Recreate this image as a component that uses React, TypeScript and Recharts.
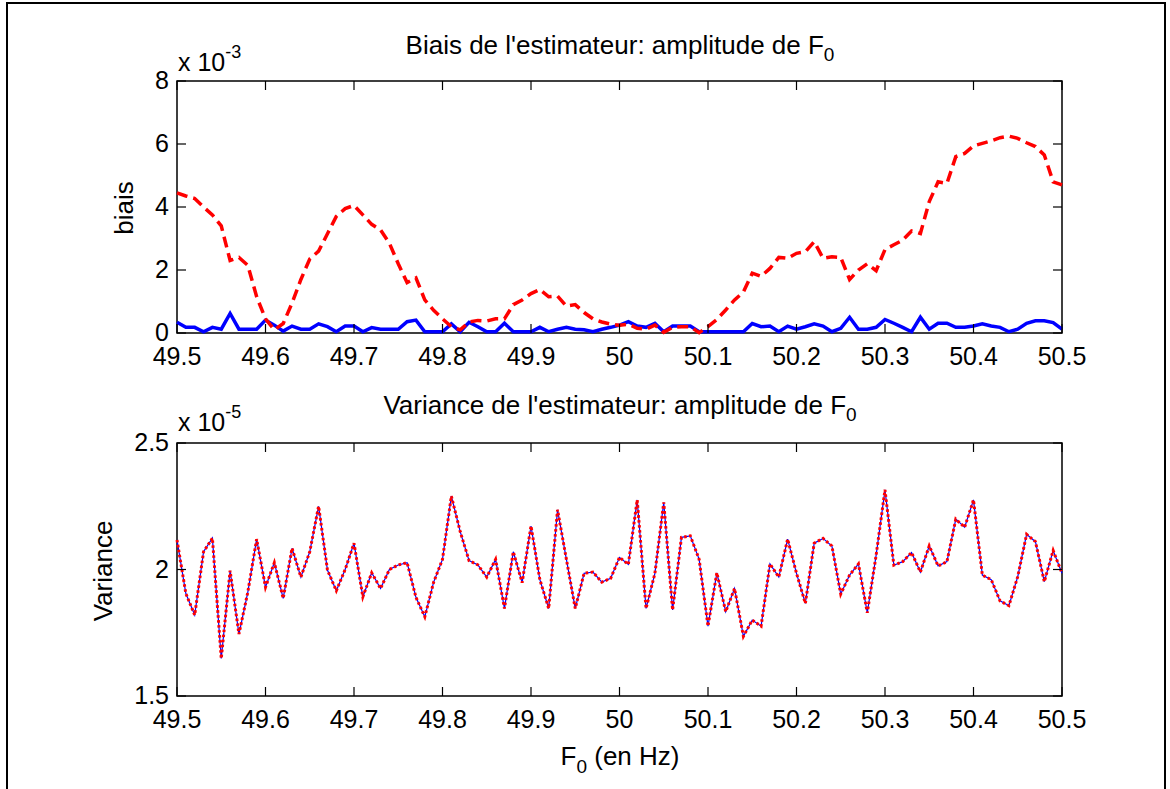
import { LineChart, Line, XAxis, YAxis, ReferenceArea } from 'recharts'

// grille de fréquences (Hz)
const freqs = Array.from({ length: 101 }, (_, i) => Math.round((49.5 + i * 0.01) * 100) / 100)

const xTicks = [49.5, 49.6, 49.7, 49.8, 49.9, 50, 50.1, 50.2, 50.3, 50.4, 50.5]
const biaisTicks = [0, 2, 4, 6, 8]
const varTicks = [1.5, 2, 2.5]

// biais, en unités de 1e-3
const biaisRouge = [
  4.45, 4.35, 4.27, 4.0, 3.75, 3.4, 2.3, 2.4, 2.15, 1.15,
  0.45, 0.1, 0.3, 0.95, 1.7, 2.35, 2.6, 3.15, 3.7, 3.95,
  4.05, 3.75, 3.45, 3.27, 2.85, 2.2, 1.6, 1.75, 1.05, 0.72,
  0.45, 0.2, 0.1, 0.35, 0.4, 0.38, 0.45, 0.45, 0.9, 1.05,
  1.25, 1.38, 1.15, 1.17, 0.85, 0.9, 0.65, 0.45, 0.35, 0.28,
  0.25, 0.28, 0.15, 0.12, 0.25, 0.02, 0.18, 0.2, 0.2, 0.01,
  0.2, 0.43, 0.73, 1.05, 1.3, 1.9, 1.8, 2.05, 2.4, 2.37,
  2.53, 2.58, 2.9, 2.37, 2.42, 2.4, 1.7, 2.0, 2.2, 1.98,
  2.65, 2.8, 2.95, 3.24, 3.16, 4.17, 4.8, 4.75, 5.6, 5.7,
  5.94, 6.02, 6.1, 6.2, 6.25, 6.18, 6.04, 5.92, 5.65, 4.8,
  4.7,
]
const biaisBleu = [
  0.34, 0.18, 0.18, 0.04, 0.18, 0.12, 0.62, 0.12, 0.12, 0.12,
  0.41, 0.25, 0.06, 0.22, 0.12, 0.12, 0.29, 0.2, 0.04, 0.22,
  0.22, 0.04, 0.17, 0.12, 0.12, 0.12, 0.36, 0.41, 0.04, 0.04,
  0.04, 0.29, 0.04, 0.34, 0.2, 0.04, 0.04, 0.31, 0.04, 0.04,
  0.04, 0.18, 0.04, 0.12, 0.18, 0.12, 0.1, 0.04, 0.12, 0.18,
  0.25, 0.36, 0.22, 0.18, 0.31, 0.04, 0.22, 0.22, 0.22, 0.04,
  0.04, 0.04, 0.04, 0.04, 0.04, 0.3, 0.2, 0.22, 0.04, 0.22,
  0.12, 0.2, 0.29, 0.22, 0.04, 0.15, 0.5, 0.12, 0.12, 0.18,
  0.43, 0.31, 0.18, 0.04, 0.5, 0.12, 0.31, 0.31, 0.18, 0.18,
  0.22, 0.29, 0.22, 0.18, 0.04, 0.12, 0.31, 0.39, 0.39, 0.33,
  0.12,
]
// variance, en unités de 1e-5
const variance = [
  2.117, 1.905, 1.82, 2.07, 2.124, 1.648, 1.995, 1.745, 1.91, 2.12,
  1.93, 2.027, 1.886, 2.084, 1.97, 2.07, 2.25, 1.998, 1.916, 2.0,
  2.104, 1.892, 1.987, 1.925, 2.0, 2.018, 2.027, 1.89, 1.813, 1.95,
  2.04, 2.29, 2.15, 2.035, 2.018, 1.97, 2.04, 1.846, 2.07, 1.948,
  2.172, 1.96, 1.846, 2.236, 2.04, 1.846, 1.985, 1.99, 1.95, 1.965,
  2.048, 2.02, 2.275, 1.846, 1.985, 2.265, 1.84, 2.127, 2.133, 2.04,
  1.776, 1.987, 1.833, 1.925, 1.736, 1.8, 1.776, 2.022, 1.97, 2.12,
  1.985, 1.866, 2.104, 2.123, 2.093, 1.903, 1.978, 2.022, 1.829, 2.057,
  2.315, 2.017, 2.031, 2.067, 1.99, 2.093, 2.014, 2.031, 2.199, 2.167,
  2.275, 1.978, 1.96, 1.876, 1.857, 1.972, 2.139, 2.11, 1.952, 2.075,
  1.985,
]

const biaisData = freqs.map((f, i) => ({ f, rouge: biaisRouge[i], bleu: biaisBleu[i] }))
const varData = freqs.map((f, i) => ({ f, v: variance[i] }))

const W = 1170
const H = 789
const LEFT = 177
const RIGHT = 1062
const TICK = 9
const FONT = '"Liberation Sans", Arial, Helvetica, sans-serif'

const makeXTick = (top: number, bottom: number) => (props: any) => {
  const { x, payload } = props
  return (
    <g>
      <line x1={x} y1={bottom} x2={x} y2={bottom - TICK} stroke="#000" strokeWidth={1.2} />
      <line x1={x} y1={top} x2={x} y2={top + TICK} stroke="#000" strokeWidth={1.2} />
      <text x={x} y={bottom + 32} textAnchor="middle" fontSize={25} fill="#000">
        {payload.value}
      </text>
    </g>
  )
}

const makeYTick = () => (props: any) => {
  const { y, payload } = props
  return (
    <g>
      <line x1={LEFT} y1={y} x2={LEFT + TICK} y2={y} stroke="#000" strokeWidth={1.2} />
      <line x1={RIGHT} y1={y} x2={RIGHT - TICK} y2={y} stroke="#000" strokeWidth={1.2} />
      <text x={LEFT - 8} y={y + 8} textAnchor="end" fontSize={25} fill="#000">
        {payload.value}
      </text>
    </g>
  )
}

export default function App() {
  const top1 = 81
  const bot1 = 333
  const top2 = 443
  const bot2 = 696

  return (
    <div style={{ position: 'absolute', left: 0, top: 0, width: W, height: H, overflow: 'hidden', background: '#fff', fontFamily: FONT }}>
      <div style={{ position: 'absolute', left: 6, top: 2, width: 1156, height: 800, borderLeft: '2px solid #000', borderTop: '2px solid #000', borderRight: '2px solid #000' }} />

      <div style={{ position: 'absolute', left: 0, top: 0 }}>
        <LineChart width={W} height={H} data={biaisData} margin={{ top: top1, right: W - RIGHT, left: LEFT - 60, bottom: H - bot1 - 40 }}>
          <XAxis dataKey="f" type="number" domain={[49.5, 50.5]} ticks={xTicks} interval={0} height={40} axisLine={false} tickLine={false} tick={makeXTick(top1, bot1)} />
          <YAxis type="number" domain={[0, 8]} ticks={biaisTicks} interval={0} width={60} axisLine={false} tickLine={false} tick={makeYTick()} />
          <ReferenceArea x1={49.5} x2={50.5} y1={0} y2={8} fill="none" fillOpacity={0} stroke="#000" strokeWidth={1.5} />
          <Line dataKey="bleu" type="linear" stroke="#0000ff" strokeWidth={3.5} dot={false} isAnimationActive={false} />
          <Line dataKey="rouge" type="linear" stroke="#ff0000" strokeWidth={3.5} strokeDasharray="11 6" dot={false} isAnimationActive={false} />
        </LineChart>
      </div>

      <div style={{ position: 'absolute', left: 0, top: 0 }}>
        <LineChart width={W} height={H} data={varData} margin={{ top: top2, right: W - RIGHT, left: LEFT - 60, bottom: H - bot2 - 40 }}>
          <XAxis dataKey="f" type="number" domain={[49.5, 50.5]} ticks={xTicks} interval={0} height={40} axisLine={false} tickLine={false} tick={makeXTick(top2, bot2)} />
          <YAxis type="number" domain={[1.5, 2.5]} ticks={varTicks} interval={0} width={60} axisLine={false} tickLine={false} tick={makeYTick()} />
          <ReferenceArea x1={49.5} x2={50.5} y1={1.5} y2={2.5} fill="none" fillOpacity={0} stroke="#000" strokeWidth={1.5} />
          <Line dataKey="v" type="linear" stroke="#0000ff" strokeWidth={1.2} dot={false} isAnimationActive={false} />
          <Line dataKey="v" type="linear" stroke="#ff0000" strokeWidth={3} strokeDasharray="2.6 2.4" dot={false} isAnimationActive={false} />
        </LineChart>
      </div>

      <svg width={W} height={H} style={{ position: 'absolute', left: 0, top: 0, pointerEvents: 'none' }}>
        <g fontFamily={FONT} fill="#000">
          <text x={620} y={54} textAnchor="middle" fontSize={26}>
            Biais de l'estimateur: amplitude de F<tspan dy={7} fontSize={19}>0</tspan>
          </text>
          <text x={178} y={71} fontSize={25}>
            x 10<tspan dy={-13} fontSize={18}>-3</tspan>
          </text>
          <text transform="translate(133,208) rotate(-90)" textAnchor="middle" fontSize={26}>biais</text>

          <text x={620} y={414} textAnchor="middle" fontSize={26}>
            Variance de l'estimateur: amplitude de F<tspan dy={7} fontSize={19}>0</tspan>
          </text>
          <text x={178} y={431} fontSize={25}>
            x 10<tspan dy={-13} fontSize={18}>-5</tspan>
          </text>
          <text transform="translate(112,571) rotate(-90)" textAnchor="middle" fontSize={26}>Variance</text>

          <text x={620} y={765} textAnchor="middle" fontSize={26}>
            F<tspan dy={8} fontSize={19}>0</tspan>
            <tspan dy={-8}> (en Hz)</tspan>
          </text>
        </g>
      </svg>
    </div>
  )
}
